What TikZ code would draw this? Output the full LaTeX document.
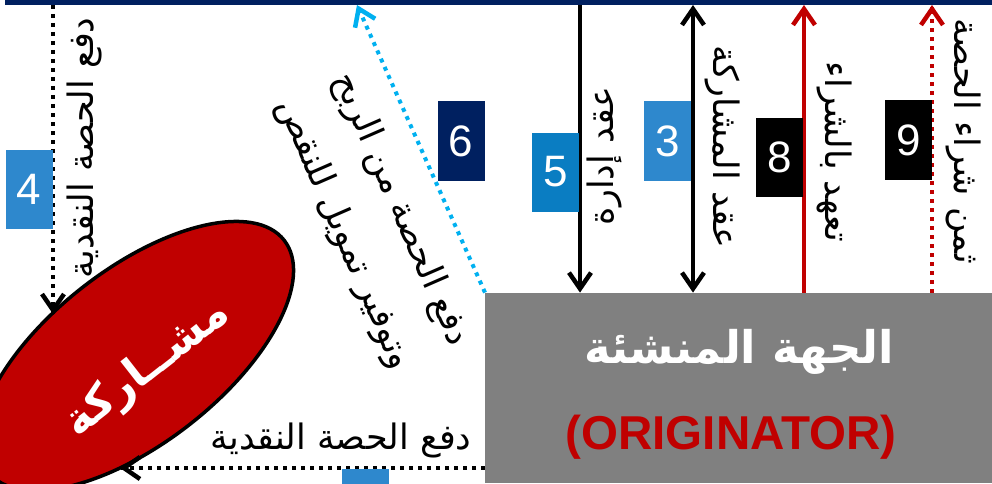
\documentclass[tikz,border=0pt]{standalone}
\usepackage{fontspec}
\setmainfont{Liberation Sans}
\newfontfamily\arabicfont[Script=Arabic]{DejaVu Sans}
\TeXXeTstate=1
\usetikzlibrary{arrows.meta,shapes.geometric}
\definecolor{navy}{HTML}{002060}
\definecolor{origgray}{HTML}{808080}
\definecolor{partred}{HTML}{C00000}
\definecolor{skyline}{HTML}{00B0F0}
\definecolor{boxblue}{HTML}{2E88CD}
\definecolor{deepblue}{HTML}{0A7DC2}
\begin{document}
\begin{tikzpicture}[x=1pt,y=1pt,
  numbox/.style={minimum width=47pt,minimum height=79pt,inner sep=0pt,text=white,font=\fontsize{44}{44}\selectfont},
  lbl/.style={inner sep=0pt,font=\arabicfont\fontsize{35}{62}\selectfont},
  barb/.style={line width=4.5pt,-{Straight Barb[length=16pt,width=22pt]}},
  dotline/.style={line width=4pt,dash pattern=on 4pt off 5pt}]
\useasboundingbox (0,0) rectangle (992,483);
\fill[navy] (5,478) rectangle (992,483);

\node[fill=origgray,minimum width=507pt,minimum height=190pt,inner sep=0pt,anchor=south west] (orig) at (485,0) {};
\node[text=white,font=\arabicfont\bfseries\fontsize{45}{45}\selectfont] (origar) at (739,131) {\beginR الجهة المنشئة\endR};
\node[text=partred,font=\bfseries\fontsize{47.5}{47.5}\selectfont] (origen) at (731,46) {(ORIGINATOR)};

\node[ellipse,draw,line width=3.5pt,fill=partred,rotate=38,minimum width=376pt,minimum height=174pt,inner sep=0pt] (part) at (136,127) {};
\node[rotate=38,text=white,font=\arabicfont\bfseries\fontsize{44}{44}\selectfont] (parttxt) at (148,114) {\beginR مشــاركة\endR};

\coordinate (t4) at (53,478);
\coordinate (e4) at (53,169);
\coordinate (t5) at (580,478);
\coordinate (t3) at (693,478);
\coordinate (t8) at (804,478);
\coordinate (t9) at (932,478);
\coordinate (t6) at (357,478);
\coordinate (e7) at (120,15);

\draw[dotline] (t4) -- (e4);
\draw[barb] (e4) ++(0,2) -- (e4);
\draw[barb] (t5) -- (t5 |- orig.north);
\draw[barb,{Straight Barb[length=16pt,width=22pt]}-{Straight Barb[length=16pt,width=22pt]}] (t3) -- (t3 |- orig.north);
\draw[partred,barb] (t8 |- orig.north) -- (t8);
\draw[partred,dotline] (t9 |- orig.north) -- (t9);
\draw[partred,barb] (t9) ++(0,-2) -- (t9);
\draw[skyline,dotline] (orig.north west) -- (t6);
\draw[skyline,barb] (t6) ++(1.28,-2.88) -- (t6);
\draw[dotline] (e7 -| orig.west) -- (e7);
\draw[barb] (e7) ++(2,0) -- (e7);

\node[numbox,fill=boxblue] (n4) at (29,293.5) {4};
\node[numbox,fill=deepblue] (n5) at (555.5,311) {5};
\node[numbox,fill=boxblue] (n3) at (667.5,342) {3};
\node[numbox,fill=black] (n8) at (779.5,326) {8};
\node[numbox,fill=black] (n9) at (908.5,343) {9};
\node[numbox,fill=navy] (n6) at (461,342) {6};
\node[numbox,fill=boxblue] (n7) at (365,-25) {};

\node[lbl,rotate=90] (l4) at (84,335) {\beginR دفع الحصة النقدية\endR};
\node[lbl,rotate=90] (l5) at (604,327) {\beginR عقد إدارة\endR};
\node[lbl,rotate=-90] (l3) at (723,336) {\beginR عقد المشاركة\endR};
\node[lbl,rotate=-90] (l8) at (835,331) {\beginR تعهد بالشراء\endR};
\node[lbl,rotate=-90] (l9) at (964,342) {\beginR ثمن شراء الحصة\endR};
\node[lbl,rotate=-66.4,align=center] (l6) at (372,261) {\beginR دفع الحصة من الربح\endR\\\beginR وتوفير تمويل للنقص\endR};
\node[lbl] (l7) at (341,43) {\beginR دفع الحصة النقدية\endR};
\end{tikzpicture}
\end{document}
